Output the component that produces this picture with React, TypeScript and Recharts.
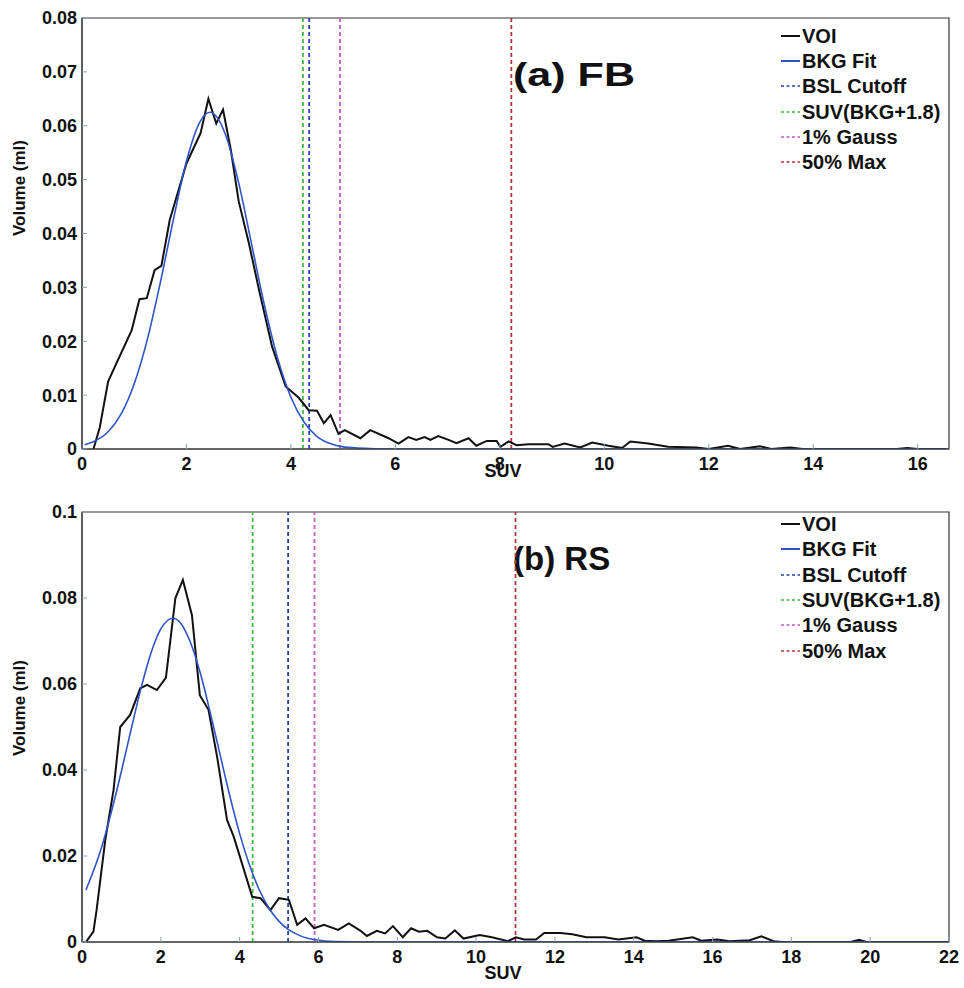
import {
  Label,
  Legend,
  Line,
  LineChart,
  ReferenceArea,
  ReferenceLine,
  XAxis,
  YAxis,
} from "recharts";

// (a) FB panel
const fbVoiSuv = [0.22, 0.34, 0.5, 0.63, 0.95, 1.1, 1.24, 1.39, 1.52, 1.68, 2.0, 2.27, 2.42, 2.57, 2.7, 2.85, 3.0, 3.2, 3.39, 3.64, 3.9, 4.15, 4.34, 4.5, 4.63, 4.76, 4.91, 5.03, 5.33, 5.52, 5.87, 6.06, 6.25, 6.4, 6.56, 6.67, 6.82, 7.02, 7.17, 7.4, 7.55, 7.75, 7.94, 8.01, 8.17, 8.32, 8.55, 8.93, 9.01, 9.24, 9.54, 9.77, 10.08, 10.34, 10.5, 10.84, 11.22, 11.76, 12.0, 12.37, 12.6, 12.98, 13.2, 13.56, 13.8, 15.6, 15.8, 16.0, 16.55];
const fbVoi = [0, 0.004, 0.0125, 0.0153, 0.022, 0.0278, 0.028, 0.0332, 0.034, 0.0425, 0.053, 0.0586, 0.065, 0.0604, 0.063, 0.0555, 0.046, 0.038, 0.0295, 0.019, 0.0116, 0.0095, 0.0072, 0.0071, 0.0048, 0.0063, 0.0028, 0.0035, 0.002, 0.0035, 0.002, 0.001, 0.0022, 0.0017, 0.0022, 0.0017, 0.0024, 0.0017, 0.0011, 0.002, 0.0006, 0.0015, 0.0015, 0.0004, 0.0014, 0.0007, 0.0009, 0.0009, 0.0004, 0.001, 0.0003, 0.0012, 0.0006, 0.0002, 0.0014, 0.001, 0.0004, 0.0003, 0, 0.0006, 0, 0.0005, 0, 0.0003, 0, 0, 0.0002, 0, 0];
const fbFitSuv = [0.05, 0.25, 0.5, 0.75, 1.0, 1.25, 1.5, 1.75, 2.0, 2.25, 2.45, 2.75, 3.0, 3.25, 3.5, 3.75, 4.0, 4.25, 4.5, 4.75, 5.0, 5.5, 6.0, 16.55];
const fbFit = [0.0008, 0.0015, 0.0032, 0.0065, 0.0121, 0.0203, 0.0309, 0.0426, 0.0534, 0.0606, 0.0625, 0.0583, 0.0494, 0.0379, 0.0264, 0.0167, 0.0096, 0.005, 0.0023, 0.001, 0.0004, 0.0001, 0, 0];
// BSL Cutoff, SUV(BKG+1.8), 1% Gauss, 50% Max
const fbCutoffs = [4.35, 4.23, 4.94, 8.22];
const fbXTicks = [0, 2, 4, 6, 8, 10, 12, 14, 16];
const fbYTicks = [0, 0.01, 0.02, 0.03, 0.04, 0.05, 0.06, 0.07, 0.08];

// (b) RS panel
const rsVoiSuv = [0.1, 0.29, 0.37, 0.59, 0.8, 0.97, 1.22, 1.48, 1.65, 1.9, 2.13, 2.37, 2.56, 2.79, 2.99, 3.21, 3.43, 3.68, 3.85, 4.32, 4.53, 4.78, 5.0, 5.25, 5.46, 5.67, 5.89, 6.14, 6.5, 6.77, 7.07, 7.23, 7.48, 7.69, 7.89, 8.14, 8.35, 8.55, 8.76, 9.01, 9.22, 9.46, 9.68, 10.09, 10.4, 10.81, 11.01, 11.22, 11.52, 11.73, 12.14, 12.44, 12.8, 13.26, 13.61, 14.07, 14.28, 14.58, 14.88, 15.5, 15.71, 16.12, 16.43, 16.94, 17.24, 17.55, 17.76, 19.5, 19.72, 19.9, 22];
const rsVoi = [0, 0.0024, 0.0074, 0.0237, 0.0353, 0.05, 0.0528, 0.059, 0.0598, 0.0586, 0.0615, 0.08, 0.0842, 0.076, 0.0574, 0.054, 0.043, 0.0284, 0.0245, 0.0105, 0.0102, 0.0074, 0.0102, 0.0098, 0.004, 0.0055, 0.0032, 0.004, 0.0028, 0.0043, 0.0026, 0.0014, 0.0026, 0.002, 0.0037, 0.0011, 0.0032, 0.0024, 0.0026, 0.0011, 0.0008, 0.0027, 0.0008, 0.0016, 0.0011, 0.0002, 0.0011, 0.0006, 0.0006, 0.0021, 0.0021, 0.0018, 0.0011, 0.0011, 0.0006, 0.0011, 0.0003, 0.0002, 0.0003, 0.0011, 0.0003, 0.0006, 0.0002, 0.0004, 0.0013, 0.0002, 0, 0, 0.0005, 0, 0];
const rsFitSuv = [0.1, 0.5, 0.75, 1.0, 1.25, 1.5, 1.75, 2.0, 2.3, 2.5, 2.75, 3.0, 3.25, 3.5, 3.75, 4.0, 4.25, 4.5, 4.75, 5.0, 5.25, 5.5, 5.75, 6.0, 6.5, 7.0, 22];
const rsFit = [0.0121, 0.0221, 0.0304, 0.0397, 0.0496, 0.0591, 0.0672, 0.0728, 0.0753, 0.0742, 0.0697, 0.0626, 0.0535, 0.0437, 0.034, 0.0252, 0.0179, 0.0121, 0.0078, 0.0048, 0.0028, 0.0016, 0.0008, 0.0004, 0.0001, 0, 0];
const rsCutoffs = [5.23, 4.33, 5.9, 11.0];
const rsXTicks = [0, 2, 4, 6, 8, 10, 12, 14, 16, 18, 20, 22];
const rsYTicks = [0, 0.02, 0.04, 0.06, 0.08, 0.1];

const legendNames = ["VOI", "BKG Fit", "BSL Cutoff", "SUV(BKG+1.8)", "1% Gauss", "50% Max"];
const legendColors = ["#111111", "#2d55c8", "#2a3fae", "#3dbd3d", "#c05ac8", "#b0373c"];

const FONT = '"Liberation Sans", Arial, Helvetica, sans-serif';
const TICK_STROKE = "#8aa0b4";

const toPoints = (xs: number[], ys: number[]) => xs.map((suv, i) => ({ suv, v: ys[i] }));

function LegendBox() {
  return (
    <div style={{ fontFamily: FONT, fontWeight: 700, fontSize: 20, color: "#111", lineHeight: 1 }}>
      {legendNames.map((name, i) => (
        <div key={name} style={{ height: 25.3, display: "flex", alignItems: "center" }}>
          <svg width={21} height={10}>
            <line
              x1={0}
              x2={19}
              y1={5}
              y2={5}
              stroke={legendColors[i]}
              strokeWidth={i < 2 ? 2 : 1.6}
              strokeDasharray={i < 2 ? undefined : "3 2.5"}
            />
          </svg>
          <span>{name}</span>
        </div>
      ))}
    </div>
  );
}

type PanelProps = {
  top: number;
  height: number;
  marginTop: number;
  xAxisHeight: number;
  xMax: number;
  xTicks: number[];
  yMax: number;
  yTicks: number[];
  voi: { suv: number; v: number }[];
  fit: { suv: number; v: number }[];
  cutoffs: number[];
  title: string;
  titleWidth?: number;
  titleY: number;
  legendTop: number;
  yLabelY: number;
  xLabelY: number;
};

function Panel(p: PanelProps) {
  return (
    <div style={{ position: "absolute", left: 0, top: p.top }}>
      <LineChart
        width={964}
        height={p.height}
        margin={{ top: p.marginTop - 1, right: 14, bottom: 0, left: 0 }}
      >
        <XAxis
          type="number"
          dataKey="suv"
          domain={[0, p.xMax]}
          ticks={p.xTicks}
          allowDataOverflow
          height={p.xAxisHeight}
          tickSize={-5}
          tickMargin={13}
          tick={{ fill: "#111", fontSize: 18, fontWeight: 700, fontFamily: FONT }}
          tickLine={{ stroke: TICK_STROKE }}
          axisLine={{ stroke: "#333" }}
        >
          <Label
            content={() => (
              <text
                x={503}
                y={p.xLabelY}
                textAnchor="middle"
                fontFamily={FONT}
                fontWeight={700}
                fontSize={18}
                fill="#111"
              >
                SUV
              </text>
            )}
          />
        </XAxis>
        <XAxis
          xAxisId="top"
          orientation="top"
          type="number"
          domain={[0, p.xMax]}
          ticks={p.xTicks}
          allowDataOverflow
          height={1}
          tickSize={-5}
          tick={false}
          tickLine={{ stroke: TICK_STROKE }}
          axisLine={false}
        />
        <YAxis
          type="number"
          domain={[0, p.yMax]}
          ticks={p.yTicks}
          allowDataOverflow
          width={82}
          tickSize={-5}
          tickMargin={10}
          tickFormatter={(v: number) => String(v)}
          tick={{ fill: "#111", fontSize: 18, fontWeight: 700, fontFamily: FONT }}
          tickLine={{ stroke: TICK_STROKE }}
          axisLine={{ stroke: "#333" }}
        >
          <Label
            content={() => (
              <text
                x={25}
                y={p.yLabelY}
                transform={`rotate(-90, 25, ${p.yLabelY})`}
                textAnchor="middle"
                fontFamily={FONT}
                fontWeight={700}
                fontSize={17}
                fill="#111"
              >
                Volume (ml)
              </text>
            )}
          />
        </YAxis>
        <YAxis
          yAxisId="right"
          orientation="right"
          type="number"
          domain={[0, p.yMax]}
          ticks={p.yTicks}
          allowDataOverflow
          width={1}
          tickSize={-5}
          tick={false}
          tickLine={{ stroke: TICK_STROKE }}
          axisLine={false}
        />
        <ReferenceArea
          x1={0}
          x2={p.xMax}
          y1={0}
          y2={p.yMax}
          fill="none"
          stroke="#333"
          strokeWidth={1.2}
          label={{
            content: () => (
              <text
                x={513}
                y={p.titleY}
                fontFamily={FONT}
                fontWeight={700}
                fontSize={33}
                fill="#111"
                textLength={p.titleWidth}
                lengthAdjust={p.titleWidth ? "spacingAndGlyphs" : undefined}
              >
                {p.title}
              </text>
            ),
          }}
        />
        {p.cutoffs.map((c, i) => (
          <ReferenceLine
            key={legendNames[i + 2]}
            x={c}
            stroke={legendColors[i + 2]}
            strokeWidth={1.8}
            strokeDasharray="4 3"
          />
        ))}
        <Line
          data={p.voi}
          dataKey="v"
          type="linear"
          stroke="#111111"
          strokeWidth={2}
          dot={false}
          isAnimationActive={false}
        />
        <Line
          data={p.fit}
          dataKey="v"
          type="monotone"
          stroke="#2d55c8"
          strokeWidth={1.6}
          dot={false}
          isAnimationActive={false}
        />
        <Legend
          layout="horizontal"
          verticalAlign="middle"
          align="center"
          content={() => <LegendBox />}
          wrapperStyle={{ top: p.legendTop, left: 781, width: 180, height: "auto" }}
        />
      </LineChart>
    </div>
  );
}

export default function App() {
  return (
    <div
      style={{
        position: "absolute",
        left: 0,
        top: 0,
        width: 964,
        height: 988,
        background: "#fff",
      }}
    >
      <Panel
        top={0}
        height={490}
        marginTop={18}
        xAxisHeight={41}
        xMax={16.6}
        xTicks={fbXTicks}
        yMax={0.08}
        yTicks={fbYTicks}
        voi={toPoints(fbVoiSuv, fbVoi)}
        fit={toPoints(fbFitSuv, fbFit)}
        cutoffs={fbCutoffs}
        title="(a) FB"
        titleWidth={122}
        titleY={86}
        legendTop={23}
        yLabelY={188}
        xLabelY={477}
      />
      <Panel
        top={490}
        height={498}
        marginTop={22}
        xAxisHeight={46}
        xMax={22}
        xTicks={rsXTicks}
        yMax={0.1}
        yTicks={rsYTicks}
        voi={toPoints(rsVoiSuv, rsVoi)}
        fit={toPoints(rsFitSuv, rsFit)}
        cutoffs={rsCutoffs}
        title="(b) RS"
        titleY={80}
        legendTop={21.5}
        yLabelY={218}
        xLabelY={489}
      />
    </div>
  );
}
